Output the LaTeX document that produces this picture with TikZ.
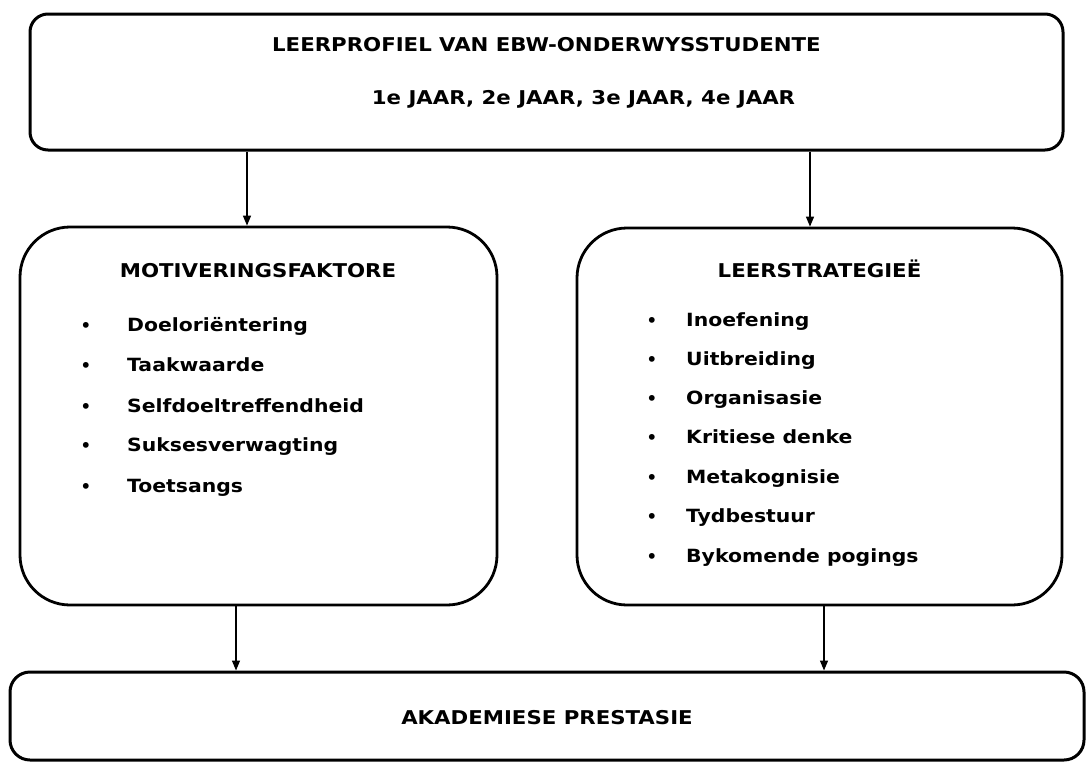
\documentclass[tikz,border=0pt]{standalone}
\usepackage{fontspec}
\setmainfont{DejaVu Sans}
\newfontfamily\widefont[FakeStretch=1.12]{DejaVu Sans}
\usetikzlibrary{arrows.meta}
\begin{document}
\begin{tikzpicture}[x=1pt,y=-1pt,
  box/.style={draw, line width=3pt, rounded corners=18pt, inner sep=0pt},
  bigbox/.style={draw, line width=2.8pt, rounded corners=50pt, inner sep=0pt},
  conn/.style={line width=1.3pt, -{Triangle[length=10pt,width=8pt]}},
  ttl/.style={anchor=base, inner sep=0pt, font=\widefont\bfseries\fontsize{19}{22}\selectfont},
  itm/.style={anchor=base west, inner sep=0pt, font=\widefont\bfseries\fontsize{18.2}{21}\selectfont},
  bul/.style={anchor=base, inner sep=0pt, font=\bfseries\fontsize{16.5}{19}\selectfont}]
\useasboundingbox (0,0) rectangle (1087,764);
% boxes
\node[box, minimum width=1033pt, minimum height=136pt] (top) at (546.5,82) {};
\node[bigbox, minimum width=477pt, minimum height=378pt] (lb) at (258.5,416) {};
\node[bigbox, minimum width=485pt, minimum height=377pt] (rb) at (819.5,416.5) {};
\node[box, minimum width=1074pt, minimum height=88pt, rounded corners=20pt] (bot) at (547,716) {};
% top texts
\node[ttl] (t1) at (546.5,51) {LEERPROFIEL VAN EBW-ONDERWYSSTUDENTE};
\node[ttl] (t2) at (583.5,104) {1e JAAR, 2e JAAR, 3e JAAR, 4e JAAR};
% left box
\node[ttl] (lt) at (258,277) {MOTIVERINGSFAKTORE};
\foreach \y/\t [count=\i] in {331/Doeloriëntering, 371/Taakwaarde, 412/Selfdoeltreffendheid, 451/Suksesverwagting, 492/Toetsangs}{
  \node[bul] (lbu\i) at (86,\y) {•};
  \node[itm] (li\i) at (127,\y) {\t};
}
% right box
\node[ttl] (rt) at (819.5,277) {LEERSTRATEGIEË};
\foreach \y/\t [count=\i] in {326/Inoefening, 365/Uitbreiding, 404/Organisasie, 443/Kritiese denke, 483/Metakognisie, 522/Tydbestuur, 562/Bykomende pogings}{
  \node[bul] (rbu\i) at (652,\y) {•};
  \node[itm] (ri\i) at (686,\y) {\t};
}
% bottom text
\node[ttl] (bt) at (547,724) {AKADEMIESE PRESTASIE};
% connectors
\coordinate (c1) at (247,150);
\coordinate (c2) at (810,150);
\coordinate (c3) at (236,605);
\coordinate (c4) at (824,605);
\draw[conn] (c1 |- top.south) -- (c1 |- lb.north);
\draw[conn] (c2 |- top.south) -- (c2 |- rb.north);
\draw[conn] (c3 |- lb.south) -- (c3 |- bot.north);
\draw[conn] (c4 |- rb.south) -- (c4 |- bot.north);
\end{tikzpicture}
\end{document}
